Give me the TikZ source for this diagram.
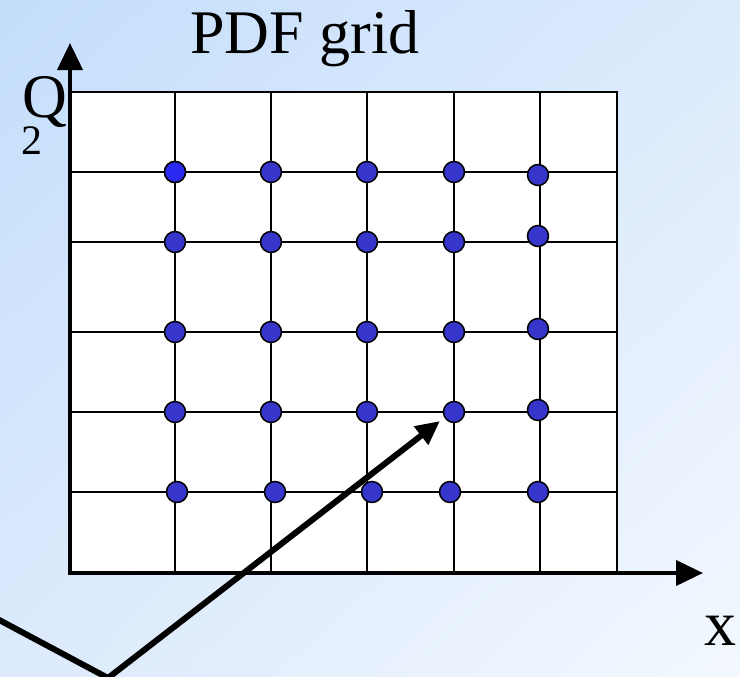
\documentclass[tikz,border=0pt]{standalone}
\usepackage{fontspec}
\setmainfont{Liberation Serif}
\usetikzlibrary{arrows.meta,shadings}
\definecolor{SkyDeep}{HTML}{C4DEFB}
\definecolor{SkyMid}{HTML}{DCEAFC}
\definecolor{SkyPale}{HTML}{F3F8FE}
\definecolor{KnotBlue}{HTML}{3636CC}
\definecolor{KnotBright}{HTML}{2A2AF2}
\tikzset{
 gridline/.style={draw=black, line width=1pt},
 axis/.style={draw=black, line width=2pt, -{Triangle[length=13.5pt,width=12.5pt]}},
 knot/.style={circle, draw=black, line width=0.75pt, fill=KnotBlue, minimum size=10.5pt, inner sep=0pt},
 pointer/.style={draw=black, line width=3pt, line join=miter, -{Triangle[length=12pt,width=11pt]}},
 label/.style={inner sep=0pt, text=black}
}

\begin{document}
\begin{tikzpicture}[x=0.5pt, y=-0.5pt]
\useasboundingbox (0,0) rectangle (740,676);
\clip (0,0) rectangle (740,676);
% background
\shade[upper left=SkyDeep, upper right=SkyMid, lower left=SkyMid, lower right=SkyPale] (0,0) rectangle (740,676);

% grid panel
\draw[gridline, fill=white] (70,92) rectangle (617,573);
\foreach \gx in {175,271,367,454,540}
  \draw[gridline] (\gx,92) -- (\gx,573);
\foreach \gy in {172,242,332,412,492}
  \draw[gridline] (70,\gy) -- (617,\gy);

% axes
\coordinate (origin) at (70,573);
\coordinate (qtip) at (70,43);
\coordinate (xtip) at (703,573);
\draw[axis] ([yshift=-1pt]origin) -- (qtip);
\draw[axis] ([xshift=-1pt]origin) -- (xtip);

% grid points
\foreach \kx/\ky/\kn in {175/172/a1,271/172/a2,367/172/a3,454/172/a4,538/175/a5,
  175/242/b1,271/242/b2,367/242/b3,454/242/b4,538/236/b5,
  175/332/c1,271/332/c2,367/332/c3,454/332/c4,538/329/c5,
  175/412/d1,271/412/d2,367/412/d3,454/412/d4,538/410/d5,
  177/492/e1,275/492/e2,372/492/e3,450/492/e4,538/492/e5}
  \node[knot] (\kn) at (\kx,\ky) {};
\node[knot, fill=KnotBright] at (a1) {};

% interpolation pointer
\coordinate (pstart) at (-12,614);
\coordinate (pbend) at (108,678);
\coordinate (ptip) at (440,421);
\draw[pointer] (pstart) -- (pbend) -- (ptip);

% labels
\node[label, anchor=base, font=\fontsize{31}{36}\selectfont] (title) at (305,53) {PDF grid};
\node[label, anchor=base west, font=\fontsize{31}{36}\selectfont] (qlabel) at (22,117) {Q};
\node[label, anchor=base west, font=\fontsize{21}{24}\selectfont] (qsub) at (21,154) {2};
\node[label, anchor=base west, font=\fontsize{32}{36}\selectfont] (xlabel) at (704,645) {x};
\end{tikzpicture}
\end{document}
